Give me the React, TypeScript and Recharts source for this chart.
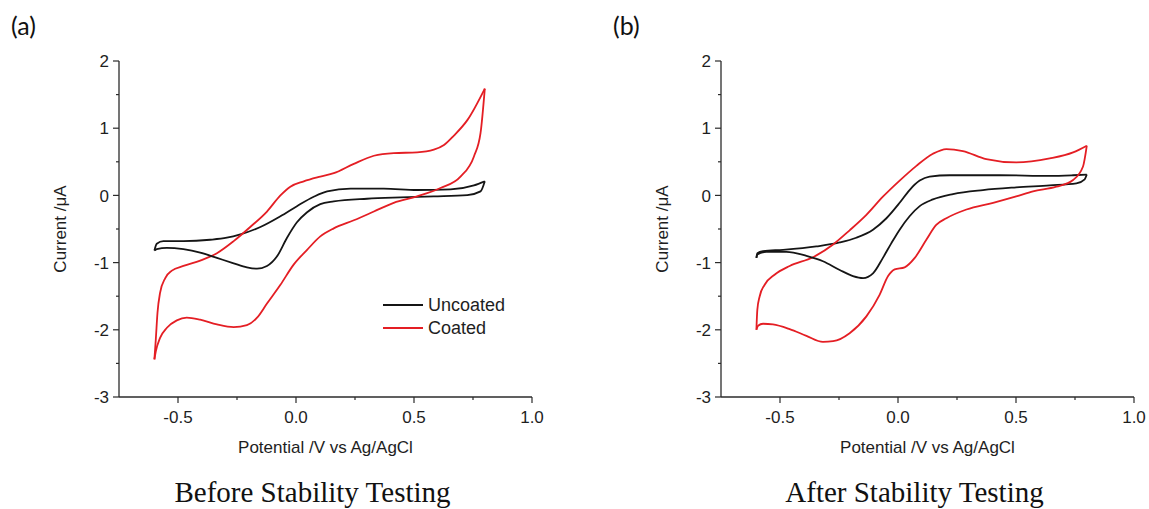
import React from "react";
import { LineChart, Line, XAxis, YAxis, Legend } from "recharts";

// ---- panel (a): before stability testing ----
const uncoatedBeforeFwdV = [-0.6, -0.59, -0.562, -0.477, -0.364, -0.293, -0.236, -0.151, -0.066, 0.004, 0.075, 0.132, 0.231, 0.372, 0.513, 0.655, 0.754, 0.8];
const uncoatedBeforeFwdI = [-0.82, -0.72, -0.68, -0.68, -0.66, -0.63, -0.58, -0.47, -0.31, -0.16, -0.02, 0.06, 0.1, 0.1, 0.08, 0.09, 0.15, 0.21];
const uncoatedBeforeRevV = [-0.6, -0.59, -0.547, -0.477, -0.406, -0.335, -0.264, -0.208, -0.165, -0.123, -0.081, -0.038, 0.004, 0.047, 0.103, 0.16, 0.301, 0.443, 0.584, 0.726, 0.782, 0.8];
const uncoatedBeforeRevI = [-0.82, -0.8, -0.78, -0.8, -0.85, -0.93, -1.01, -1.07, -1.09, -1.05, -0.91, -0.63, -0.4, -0.25, -0.13, -0.09, -0.05, -0.03, -0.015, 0.005, 0.06, 0.21];

const coatedBeforeFwdV = [-0.6, -0.594, -0.587, -0.576, -0.554, -0.526, -0.477, -0.406, -0.335, -0.264, -0.194, -0.123, -0.066, -0.024, 0.033, 0.103, 0.16, 0.245, 0.33, 0.414, 0.513, 0.584, 0.627, 0.669, 0.726, 0.8];
const coatedBeforeFwdI = [-2.44, -2.14, -1.75, -1.45, -1.23, -1.12, -1.05, -0.97, -0.86, -0.68, -0.47, -0.24, 0.0, 0.13, 0.21, 0.28, 0.33, 0.47, 0.59, 0.63, 0.64, 0.68, 0.75, 0.89, 1.12, 1.59];
const coatedBeforeRevV = [-0.6, -0.594, -0.576, -0.547, -0.505, -0.463, -0.406, -0.335, -0.264, -0.208, -0.165, -0.123, -0.066, -0.01, 0.047, 0.103, 0.16, 0.245, 0.33, 0.414, 0.513, 0.612, 0.697, 0.754, 0.782, 0.8];
const coatedBeforeRevI = [-2.44, -2.32, -2.12, -1.97, -1.86, -1.82, -1.85, -1.92, -1.96, -1.93, -1.82, -1.61, -1.33, -1.03, -0.81, -0.61, -0.49, -0.37, -0.24, -0.11, -0.015, 0.11, 0.28, 0.58, 0.93, 1.59];

// ---- panel (b): after stability testing ----
const uncoatedAfterFwdV = [-0.6, -0.596, -0.572, -0.487, -0.346, -0.247, -0.177, -0.106, -0.049, 0.007, 0.049, 0.092, 0.134, 0.219, 0.431, 0.643, 0.742, 0.8];
const uncoatedAfterFwdI = [-0.93, -0.86, -0.83, -0.81, -0.76, -0.7, -0.63, -0.51, -0.34, -0.11, 0.08, 0.22, 0.28, 0.3, 0.3, 0.29, 0.3, 0.31];
const uncoatedAfterRevV = [-0.6, -0.596, -0.558, -0.473, -0.388, -0.318, -0.247, -0.191, -0.148, -0.106, -0.064, -0.028, 0.007, 0.049, 0.092, 0.148, 0.233, 0.36, 0.501, 0.643, 0.756, 0.791, 0.8];
const uncoatedAfterRevI = [-0.93, -0.88, -0.84, -0.84, -0.9, -0.98, -1.11, -1.2, -1.23, -1.16, -0.93, -0.71, -0.51, -0.31, -0.16, -0.06, 0.02, 0.08, 0.12, 0.15, 0.18, 0.24, 0.31];

const coatedAfterFwdV = [-0.6, -0.596, -0.586, -0.565, -0.523, -0.459, -0.36, -0.275, -0.205, -0.134, -0.064, 0.007, 0.078, 0.148, 0.205, 0.275, 0.374, 0.501, 0.643, 0.742, 0.8];
const coatedAfterFwdI = [-2.0, -1.7, -1.5, -1.33, -1.18, -1.05, -0.92, -0.73, -0.52, -0.29, -0.02, 0.22, 0.44, 0.62, 0.69, 0.66, 0.54, 0.49, 0.55, 0.64, 0.74];
const coatedAfterRevV = [-0.6, -0.593, -0.572, -0.53, -0.459, -0.388, -0.318, -0.275, -0.205, -0.134, -0.078, -0.042, -0.014, 0.028, 0.071, 0.12, 0.162, 0.205, 0.29, 0.403, 0.501, 0.572, 0.671, 0.742, 0.784, 0.8];
const coatedAfterRevI = [-2.0, -1.94, -1.91, -1.92, -1.99, -2.09, -2.18, -2.17, -2.05, -1.8, -1.48, -1.2, -1.1, -1.07, -0.93, -0.66, -0.44, -0.34, -0.21, -0.11, -0.015, 0.06, 0.13, 0.23, 0.43, 0.74];

const seriesNames = ["Uncoated", "Coated"];
const potentialTicks = [-0.5, -0.25, 0, 0.25, 0.5, 0.75, 1.0];
const currentTicks = [-3, -2.5, -2, -1.5, -1, -0.5, 0, 0.5, 1, 1.5, 2];

const BLACK = "#151515";
const RED = "#e41e24";
const AXIS = "#2b2b2b";
const TEXT = "#1e1e1e";
const SANS = '"Liberation Sans", Arial, sans-serif';
const SERIF = '"Liberation Serif", "Times New Roman", serif';

const zip = (v: number[], i: number[]) => v.map((x, k) => ({ v: x, i: i[k] }));

const YTick = ({ x, y, payload }: any) => {
  const val = payload.value as number;
  const major = Number.isInteger(val);
  return (
    <g>
      <line x1={x} x2={x - (major ? 6 : 3)} y1={y} y2={y} stroke={AXIS} strokeWidth={1.2} />
      {major && (
        <text x={x - 10} y={y} dy="0.36em" textAnchor="end" fill={TEXT} fontSize={17} fontFamily={SANS}>
          {val}
        </text>
      )}
    </g>
  );
};

const XTick = ({ x, y, payload }: any) => {
  const val = payload.value as number;
  const major = Math.abs(val * 2 - Math.round(val * 2)) < 1e-9;
  return (
    <g>
      <line x1={x} x2={x} y1={y} y2={y + (major ? 6 : 3)} stroke={AXIS} strokeWidth={1.2} />
      {major && (
        <text x={x} y={y + 14} dy="0.71em" textAnchor="middle" fill={TEXT} fontSize={17} fontFamily={SANS}>
          {val.toFixed(1)}
        </text>
      )}
    </g>
  );
};

// only the two named series, in the reference's order
const renderLegend = (props: any) => {
  const items = (props.payload || [])
    .filter((p: any) => seriesNames.includes(p.value))
    .sort((a: any, b: any) => seriesNames.indexOf(a.value) - seriesNames.indexOf(b.value));
  return (
    <div style={{ fontFamily: SANS, fontSize: 18, color: TEXT, whiteSpace: "nowrap" }}>
      {items.map((p: any) => (
        <div key={p.value} style={{ display: "flex", alignItems: "center", height: 22.5 }}>
          <span style={{ display: "inline-block", width: 40, borderTop: `2px solid ${p.color}` }} />
          <span style={{ marginLeft: 5, lineHeight: "22px" }}>{p.value}</span>
        </div>
      ))}
    </div>
  );
};

interface Loop {
  name: string;
  color: string;
  fwd: { v: number; i: number }[];
  rev: { v: number; i: number }[];
}

interface PanelProps {
  left: number;
  width: number;
  marginRight: number;
  tag: string;
  title: string;
  loops: Loop[];
  legend: boolean;
}

const Panel = ({ left, width, marginRight, tag, title, loops, legend }: PanelProps) => {
  const plotCenter = 119 + (width - 119 - marginRight) / 2;
  return (
    <div style={{ position: "absolute", left, top: 0, width, height: 509 }}>
      <div style={{ position: "absolute", left: 11, top: 10, fontFamily: "Lato, 'Open Sans', sans-serif", fontSize: 25, color: "#111" }}>
        {tag}
      </div>
      <LineChart width={width} height={470} margin={{ top: 61, right: marginRight, bottom: 13, left: 0 }}>
        <XAxis
          type="number"
          dataKey="v"
          domain={[-0.75, 1.0]}
          ticks={potentialTicks}
          interval={0}
          allowDataOverflow
          height={60}
          tickSize={0}
          tickMargin={0}
          tickLine={false}
          tick={<XTick />}
          stroke={AXIS}
          strokeWidth={1.3}
          label={{ value: "Potential /V vs Ag/AgCl", position: "insideBottom", offset: 4, fill: TEXT, fontSize: 17, fontFamily: SANS }}
        />
        <YAxis
          type="number"
          dataKey="i"
          domain={[-3, 2]}
          ticks={currentTicks}
          interval={0}
          allowDataOverflow
          width={119}
          tickSize={0}
          tickMargin={0}
          tickLine={false}
          tick={<YTick />}
          stroke={AXIS}
          strokeWidth={1.3}
          label={{
            value: "Current /\u03BCA",
            angle: -90,
            position: "insideLeft",
            offset: 60,
            fill: TEXT,
            fontSize: 17,
            fontFamily: SANS,
            style: { textAnchor: "middle" },
          }}
        />
        {loops.map((l) => (
          <Line
            key={l.name + "-fwd"}
            data={l.fwd}
            dataKey="i"
            name={l.name}
            type="monotone"
            stroke={l.color}
            strokeWidth={1.8}
            dot={false}
            activeDot={false}
            isAnimationActive={false}
          />
        ))}
        {loops.map((l) => (
          <Line
            key={l.name + "-rev"}
            data={l.rev}
            dataKey="i"
            name={l.name + " (reverse)"}
            legendType="none"
            type="monotone"
            stroke={l.color}
            strokeWidth={1.8}
            dot={false}
            activeDot={false}
            isAnimationActive={false}
          />
        ))}
        {legend && (
          <Legend
            layout="vertical"
            align="center"
            verticalAlign="middle"
            content={renderLegend}
            wrapperStyle={{ left: 383, top: 294, width: 160, height: 46 }}
          />
        )}
      </LineChart>
      <div
        style={{
          position: "absolute",
          left: plotCenter - 13 - 200,
          width: 400,
          top: 478,
          textAlign: "center",
          fontFamily: SERIF,
          fontSize: 29,
          lineHeight: "29px",
          color: "#111",
        }}
      >
        {title}
      </div>
    </div>
  );
};

export default function App() {
  const before: Loop[] = [
    { name: seriesNames[0], color: BLACK, fwd: zip(uncoatedBeforeFwdV, uncoatedBeforeFwdI), rev: zip(uncoatedBeforeRevV, uncoatedBeforeRevI) },
    { name: seriesNames[1], color: RED, fwd: zip(coatedBeforeFwdV, coatedBeforeFwdI), rev: zip(coatedBeforeRevV, coatedBeforeRevI) },
  ];
  const after: Loop[] = [
    { name: seriesNames[0], color: BLACK, fwd: zip(uncoatedAfterFwdV, uncoatedAfterFwdI), rev: zip(uncoatedAfterRevV, uncoatedAfterRevI) },
    { name: seriesNames[1], color: RED, fwd: zip(coatedAfterFwdV, coatedAfterFwdI), rev: zip(coatedAfterRevV, coatedAfterRevI) },
  ];
  return (
    <div style={{ position: "absolute", left: 0, top: 0, width: 1149, height: 509, background: "#fff", overflow: "hidden" }}>
      <Panel left={0} width={560} marginRight={28} tag="(a)" title="Before Stability Testing" loops={before} legend />
      <Panel left={602} width={547} marginRight={15} tag="(b)" title="After Stability Testing" loops={after} legend={false} />
    </div>
  );
}
